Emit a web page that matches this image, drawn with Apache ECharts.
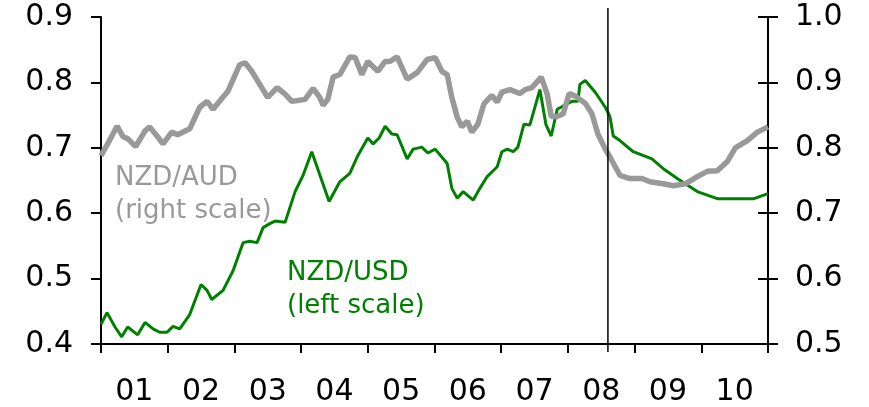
<!DOCTYPE html>
<html>
<head>
<meta charset="utf-8">
<script src="https://cdn.jsdelivr.net/npm/echarts@6/dist/echarts.min.js"></script>
<style>
  html, body { margin: 0; padding: 0; background: #fff; }
  #chart { width: 869px; height: 407px; }
</style>
</head>
<body>
<div id="chart"></div>
<script>
// year labels under the x axis
const yearLabels = ['01', '02', '03', '04', '05', '06', '07', '08', '09', '10'];

// NZD/USD, left scale (decimal year, value)
const usdDates = [2001.00, 2001.09, 2001.21, 2001.31, 2001.40, 2001.55, 2001.66, 2001.78, 2001.88, 2001.99,
  2002.08, 2002.18, 2002.33, 2002.50, 2002.59, 2002.66, 2002.83, 2002.98, 2003.13, 2003.23,
  2003.34, 2003.43, 2003.53, 2003.61, 2003.76, 2003.91, 2004.03, 2004.16, 2004.42, 2004.58,
  2004.73, 2004.85, 2005.00, 2005.08, 2005.17, 2005.26, 2005.36, 2005.44, 2005.59, 2005.68,
  2005.81, 2005.90, 2006.01, 2006.19, 2006.26, 2006.34, 2006.43, 2006.58, 2006.68, 2006.79,
  2006.94, 2007.01, 2007.09, 2007.18, 2007.25, 2007.34, 2007.43, 2007.58, 2007.67, 2007.75,
  2007.84, 2007.93, 2008.06, 2008.15, 2008.18, 2008.26, 2008.41, 2008.56, 2008.63, 2008.68,
  2008.78, 2008.98, 2009.26, 2009.43, 2009.64, 2009.94, 2010.25, 2010.78, 2011.00];
const usdValues = [0.430, 0.448, 0.426, 0.411, 0.426, 0.414, 0.433, 0.423, 0.418, 0.418,
  0.427, 0.423, 0.445, 0.491, 0.482, 0.468, 0.482, 0.512, 0.555, 0.557,
  0.555, 0.578, 0.584, 0.588, 0.586, 0.633, 0.658, 0.694, 0.618, 0.648,
  0.661, 0.688, 0.715, 0.706, 0.715, 0.733, 0.721, 0.720, 0.683, 0.698,
  0.701, 0.692, 0.698, 0.676, 0.638, 0.623, 0.633, 0.620, 0.638, 0.656,
  0.671, 0.694, 0.698, 0.694, 0.701, 0.736, 0.735, 0.789, 0.736, 0.718,
  0.759, 0.764, 0.771, 0.771, 0.797, 0.803, 0.785, 0.762, 0.748, 0.718,
  0.711, 0.694, 0.683, 0.668, 0.653, 0.633, 0.622, 0.622, 0.630];

// NZD/AUD, right scale
const audDates = [2001.00, 2001.10, 2001.24, 2001.33, 2001.40, 2001.52, 2001.66, 2001.73, 2001.84, 2001.93,
  2002.06, 2002.15, 2002.33, 2002.48, 2002.59, 2002.68, 2002.80, 2002.90, 2003.08, 2003.16,
  2003.26, 2003.41, 2003.50, 2003.64, 2003.76, 2003.86, 2004.06, 2004.18, 2004.28, 2004.33,
  2004.40, 2004.48, 2004.58, 2004.73, 2004.81, 2004.91, 2005.00, 2005.15, 2005.26, 2005.33,
  2005.44, 2005.59, 2005.74, 2005.89, 2006.01, 2006.11, 2006.19, 2006.26, 2006.34, 2006.41,
  2006.49, 2006.56, 2006.65, 2006.74, 2006.86, 2006.94, 2007.01, 2007.13, 2007.28, 2007.36,
  2007.46, 2007.60, 2007.69, 2007.75, 2007.84, 2007.93, 2008.02, 2008.11, 2008.26, 2008.36,
  2008.45, 2008.56, 2008.63, 2008.71, 2008.78, 2008.93, 2009.11, 2009.23, 2009.43, 2009.58,
  2009.76, 2009.94, 2010.09, 2010.24, 2010.39, 2010.51, 2010.69, 2010.84, 2011.00];
const audValues = [0.788, 0.806, 0.833, 0.817, 0.814, 0.802, 0.826, 0.832, 0.818, 0.806,
  0.824, 0.820, 0.829, 0.862, 0.871, 0.859, 0.874, 0.886, 0.927, 0.930,
  0.917, 0.892, 0.877, 0.892, 0.882, 0.871, 0.874, 0.891, 0.877, 0.865,
  0.874, 0.908, 0.912, 0.939, 0.938, 0.912, 0.932, 0.917, 0.932, 0.932,
  0.939, 0.905, 0.915, 0.935, 0.938, 0.917, 0.912, 0.877, 0.847, 0.832,
  0.841, 0.824, 0.836, 0.867, 0.880, 0.870, 0.885, 0.889, 0.883, 0.889,
  0.892, 0.908, 0.882, 0.848, 0.848, 0.852, 0.883, 0.879, 0.868, 0.852,
  0.821, 0.798, 0.786, 0.771, 0.758, 0.753, 0.753, 0.748, 0.745, 0.742,
  0.745, 0.756, 0.764, 0.765, 0.779, 0.800, 0.811, 0.824, 0.832];

// forecast period starts here
const forecastStart = 2008.6;

const font = 'DejaVu Sans, Verdana, sans-serif';
const zip = (xs, ys) => xs.map((x, i) => [x, ys[i]]);

let myChart = echarts.init(document.getElementById('chart'));
myChart.setOption({
  animation: false,
  grid: { left: 101, right: 101, top: 17, bottom: 60 },
  xAxis: [
    {
      type: 'value',
      min: 2001,
      max: 2011,
      interval: 1,
      axisLine: { lineStyle: { color: '#000', width: 2 } },
      axisTick: { show: true, length: 9, lineStyle: { color: '#000', width: 2 } },
      axisLabel: { show: false },
      splitLine: { show: false }
    },
    {
      type: 'category',
      position: 'bottom',
      data: yearLabels,
      boundaryGap: true,
      axisLine: { show: false },
      axisTick: { show: false },
      axisLabel: { color: '#000', fontSize: 30, fontFamily: font, margin: 33 }
    }
  ],
  yAxis: [
    {
      type: 'value',
      position: 'left',
      min: 0.4,
      max: 0.9,
      interval: 0.1,
      axisLine: { show: true, lineStyle: { color: '#000', width: 2 } },
      axisTick: { show: true, length: 10, lineStyle: { color: '#000', width: 2 } },
      axisLabel: { color: '#000', fontSize: 30, fontFamily: font, margin: 28,
        formatter: v => v.toFixed(1) },
      splitLine: { show: false }
    },
    {
      type: 'value',
      position: 'right',
      min: 0.5,
      max: 1.0,
      interval: 0.1,
      axisLine: { show: true, lineStyle: { color: '#000', width: 2 } },
      axisTick: { show: true, length: 10, lineStyle: { color: '#000', width: 2 } },
      axisLabel: { color: '#000', fontSize: 30, fontFamily: font, margin: 27,
        formatter: v => v.toFixed(1) },
      splitLine: { show: false }
    },
    {
      // inner half of the right axis ticks
      type: 'value',
      position: 'right',
      min: 0.5,
      max: 1.0,
      interval: 0.1,
      axisLine: { show: false },
      axisTick: { show: true, inside: true, length: 10, lineStyle: { color: '#000', width: 2 } },
      axisLabel: { show: false },
      splitLine: { show: false }
    }
  ],
  series: [
    {
      name: 'NZD/USD',
      type: 'line',
      xAxisIndex: 0,
      yAxisIndex: 0,
      showSymbol: false,
      lineStyle: { color: '#008000', width: 3 },
      data: zip(usdDates, usdValues)
    },
    {
      name: 'NZD/AUD',
      type: 'line',
      xAxisIndex: 0,
      yAxisIndex: 1,
      showSymbol: false,
      lineStyle: { color: '#999999', width: 5.5 },
      data: zip(audDates, audValues)
    }
  ]
});

// vertical line marking the start of the forecast, placed through the x scale
const fx = myChart.convertToPixel({ xAxisIndex: 0 }, forecastStart);
const yTop = myChart.convertToPixel({ yAxisIndex: 0 }, 0.9);
const yBottom = myChart.convertToPixel({ yAxisIndex: 0 }, 0.4);
myChart.setOption({
  graphic: [
    { id: 'audText', type: 'text', left: 115, top: 162,
      style: { text: 'NZD/AUD\n(right scale)', fill: '#999999', font: '26px ' + font, lineHeight: 33 } },
    { id: 'usdText', type: 'text', left: 287, top: 257,
      style: { text: 'NZD/USD\n(left scale)', fill: '#008000', font: '26px ' + font, lineHeight: 33 } },
    { id: 'forecast', type: 'line', z: 10,
      shape: { x1: fx, y1: yTop - 9, x2: fx, y2: yBottom + 8 },
      style: { stroke: '#000', lineWidth: 1.5 } }
  ]
});
</script>
</body>
</html>
